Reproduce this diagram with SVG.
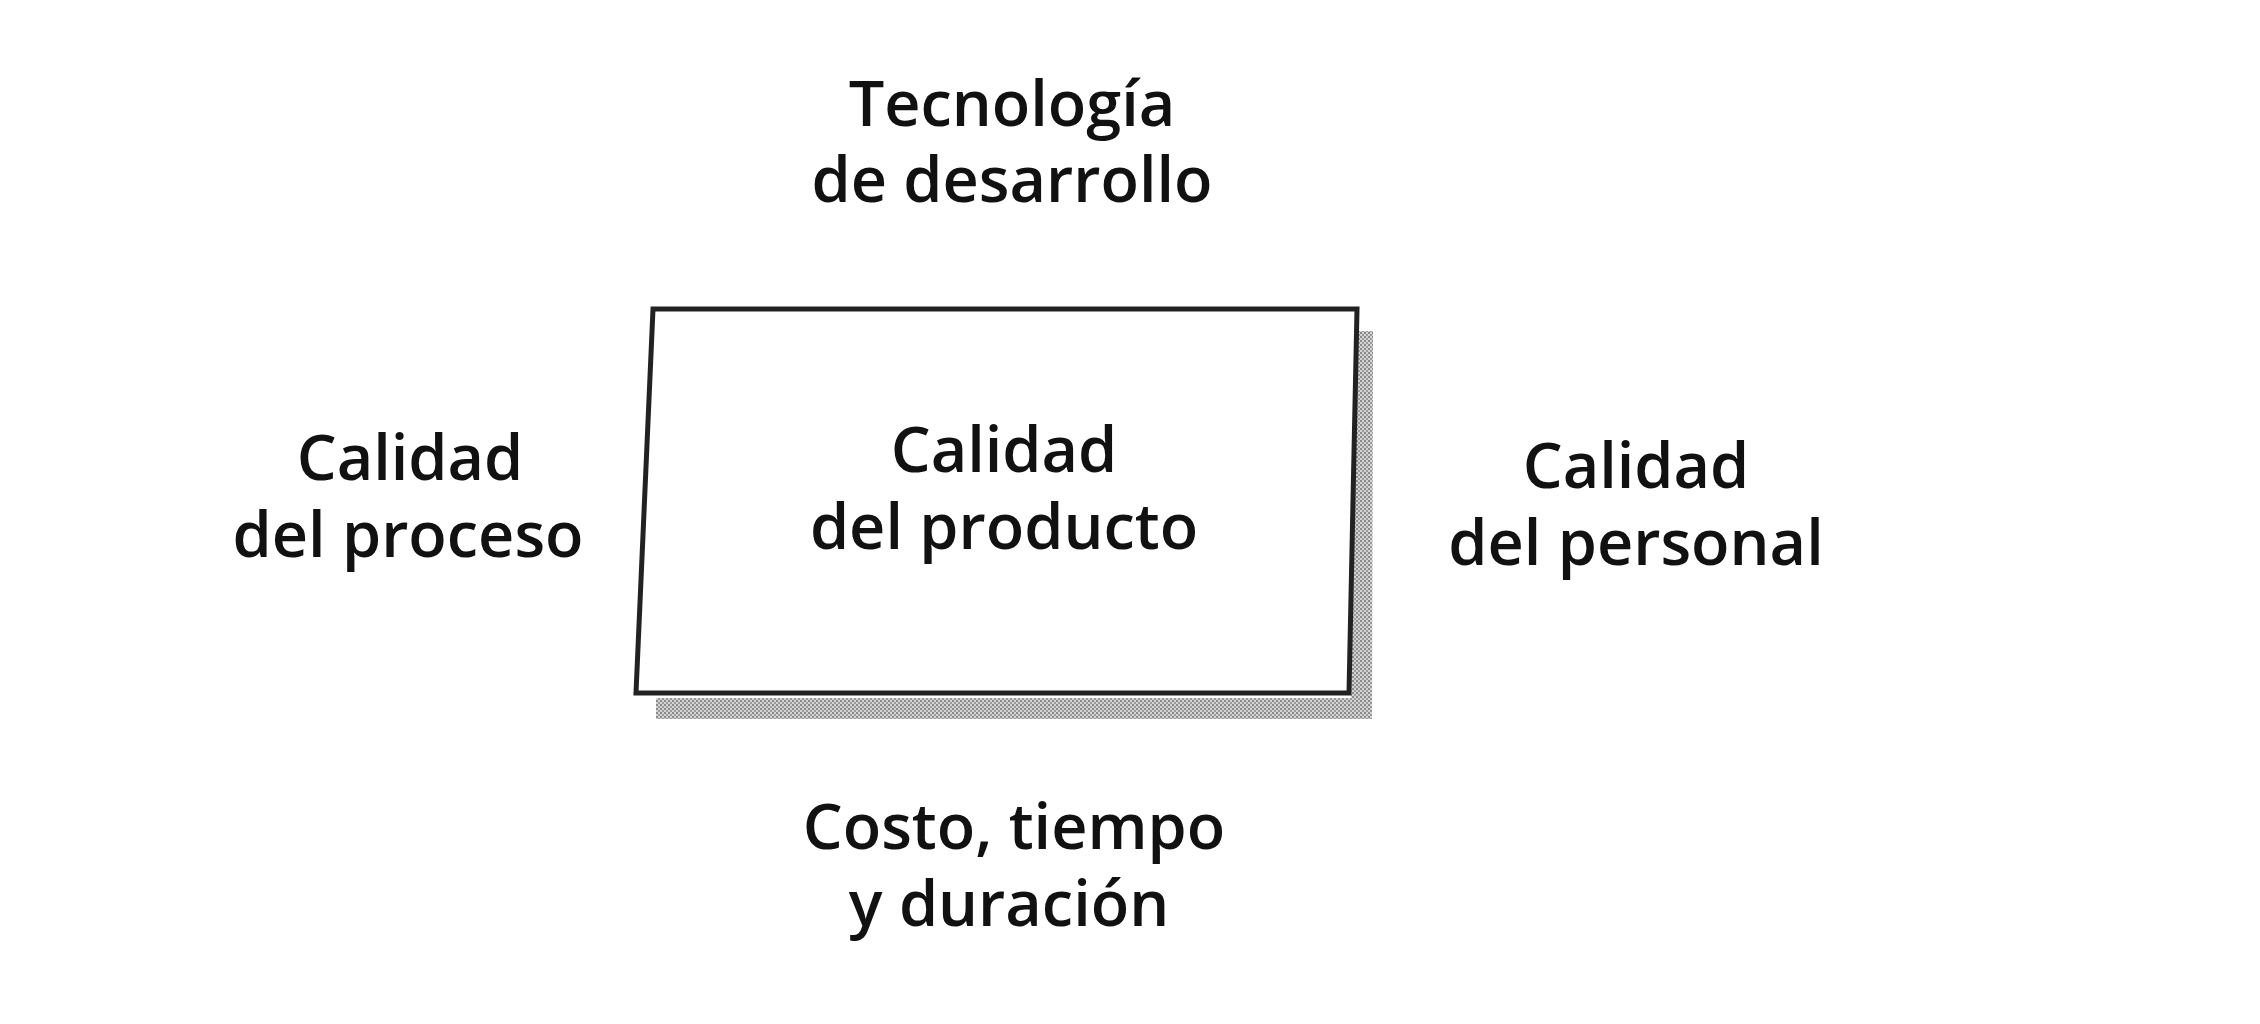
<svg xmlns="http://www.w3.org/2000/svg" width="2260" height="1024" viewBox="0 0 2260 1024">
<defs>
<pattern id="stip" width="4" height="4" patternUnits="userSpaceOnUse">
<rect width="4" height="4" fill="#d4d4d4"/>
<rect x="0" y="0" width="2" height="2" fill="#8a8a8a"/>
<rect x="2" y="2" width="2" height="2" fill="#9a9a9a"/>
</pattern>
</defs>
<style>
.t{font-family:"Open Sans","Noto Sans","Liberation Sans",sans-serif;font-weight:600;font-size:63px;fill:#111;text-anchor:middle}
.box{fill:#fff;stroke:#222;stroke-width:5;stroke-linejoin:miter}
</style>
<rect width="2260" height="1024" fill="#fff"/>
<g id="node-producto">
<polygon points="1358,331 1373,331 1372,719 656,719 656,698 1351,698" fill="url(#stip)"/>
<polygon class="box" points="653,309 1357,309 1349,693 636,693"/>
<text class="t" x="1004" y="472">Calidad</text>
<text class="t" x="1004" y="549">del producto</text>
</g>
<g id="node-tecnologia">
<text class="t" x="1012" y="126">Tecnología</text>
<text class="t" x="1012" y="202">de desarrollo</text>
</g>
<g id="node-proceso">
<text class="t" x="410" y="480">Calidad</text>
<text class="t" x="408" y="557">del proceso</text>
</g>
<g id="node-personal">
<text class="t" x="1636" y="488">Calidad</text>
<text class="t" x="1636" y="565">del personal</text>
</g>
<g id="node-costo">
<text class="t" x="1014" y="849">Costo, tiempo</text>
<text class="t" x="1009" y="926">y duración</text>
</g>
<g id="connectors"></g>
</svg>
